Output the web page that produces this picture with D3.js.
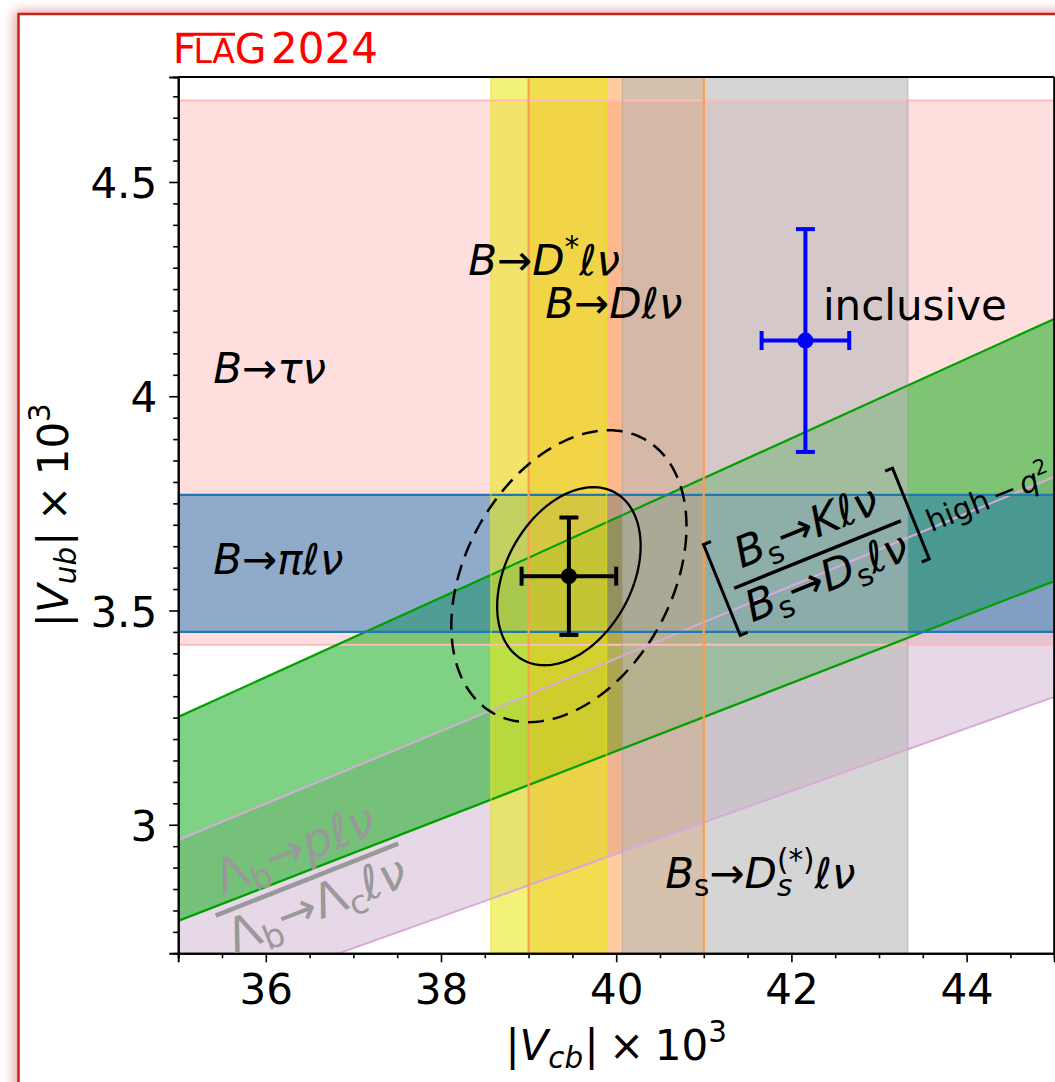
<!DOCTYPE html>
<html>
<head>
  <meta charset="utf-8">
  <title>FLAG 2024 - |Vub| vs |Vcb|</title>
  <script type="text/javascript" src="https://cdn.jsdelivr.net/npm/d3@7/dist/d3.min.js"></script>
  <style>
    body {
      margin: 0;
      background: #fff;
    }
    svg {
      display: block;
      font-family: "DejaVu Sans", sans-serif;
    }
  </style>
</head>
<body>
  <svg id="chart"></svg>
  <script>
    // ---- data (|V| x 10^3) ----

    // bands in |Vcb|
    var vcbKeys = ["D", "Dstar", "BsDs"];
    var vcbLo = [39.00, 38.57, 40.07];
    var vcbHi = [41.00, 39.89, 43.33];

    // bands in |Vub|
    var vubKeys = ["tau", "pi"];
    var vubLo = [3.42, 3.45];
    var vubHi = [4.69, 3.77];

    // bands in |Vub|/|Vcb| (lines through the origin)
    var ratioKeys = ["Lambda", "BsK"];
    var ratioLo = [0.0733, 0.0793];
    var ratioHi = [0.0847, 0.0929];

    // inclusive determination: [Vcb, err, Vub, err]
    var inclusive = [42.16, 0.50, 4.13, 0.26];

    // combined fit
    var fitCentre = [39.46, 3.58];
    var fitErr = [0.54, 0.137];
    var fitRho = 0.34;
    var contourChi2 = [2.30, 6.18];

    var xTicks = [36, 38, 40, 42, 44];
    var yTicks = [3, 3.5, 4, 4.5];
    var yTickLabels = ["3", "3.5", "4", "4.5"];

    // ---- styles ----
    var bandStyle = {
      tau:    {fill: "rgba(255,0,0,0.13)",     line: "#fbbcbc", w: 2},
      pi:     {fill: "rgba(31,119,180,0.5)",   line: "#1f77b4", w: 2.2},
      Lambda: {fill: "rgba(195,157,195,0.4)",  line: "#d9aad9", w: 2},
      BsK:    {fill: "rgba(34,176,41,0.58)",   line: "#00a000", w: 2.2},
      D:      {fill: "rgba(255,127,14,0.4)",   line: "#f99f52", w: 2.2},
      Dstar:  {fill: "rgba(233,233,22,0.58)",  line: "rgba(230,230,20,0.6)", w: 1.5},
      BsDs:   {fill: "rgba(185,185,185,0.6)",  line: "rgba(150,150,150,0.35)", w: 1.5}
    };

    var W = 1055, H = 1082;
    var FS = 42;

    var svg = d3.select("#chart").attr("width", W).attr("height", H);

    var x = d3.scaleLinear().domain([35, 45]).range([178.2, 1054.2]);
    var y = d3.scaleLinear().domain([2.7, 4.745]).range([953.3, 77]);

    var defs = svg.append("defs");
    var flt = defs.append("filter").attr("id", "shadow")
        .attr("x", "-10%").attr("y", "-10%").attr("width", "120%").attr("height", "120%");
    flt.append("feGaussianBlur").attr("stdDeviation", 6);

    defs.append("clipPath").attr("id", "plotclip")
      .append("rect")
        .attr("x", x(35)).attr("y", y(4.745))
        .attr("width", x(45) - x(35)).attr("height", y(2.7) - y(4.745));

    // card with reddish shadow
    svg.append("rect")
        .attr("x", 14).attr("y", 11).attr("width", 1150).attr("height", 1150)
        .attr("fill", "#d04a4a").attr("opacity", 0.5)
        .attr("filter", "url(#shadow)");
    svg.append("rect")
        .attr("x", 18.5).attr("y", 14).attr("width", 1150).attr("height", 1150)
        .attr("fill", "#fff").attr("stroke", "#c3261b").attr("stroke-width", 2.5);

    // ---- small mathtext-like helper ----
    // part: [text, flags, padBefore(em), padAfter(em)]
    // flags: i italic, b subscript, p superscript, k stack next part on this one
    function mrow(parent, parts, size) {
      var g = parent.append("g");
      var cx = 0, stackStart = null, stackMax = 0;
      parts.forEach(function(p) {
        var t = p[0], f = p[1] || "";
        var sub = f.indexOf("b") >= 0, sup = f.indexOf("p") >= 0;
        var fs = (sub || sup) ? size * 0.7 : size;
        var dy = sub ? size * 0.2 : (sup ? -size * 0.42 : 0);
        if (p[2]) cx += p[2] * size;
        var x0 = stackStart !== null ? stackStart : cx;
        var el = g.append("text")
            .attr("x", x0).attr("y", dy)
            .attr("font-size", fs)
            .attr("font-style", f.indexOf("i") >= 0 ? "italic" : "normal")
            .text(t);
        var w = el.node().getComputedTextLength();
        if (f.indexOf("k") >= 0) {
          stackStart = x0; stackMax = w;
        } else if (stackStart !== null) {
          cx = stackStart + Math.max(stackMax, w); stackStart = null;
        } else {
          cx = x0 + w;
        }
        if (p[3]) cx += p[3] * size;
      });
      return {g: g, width: cx};
    }

    function label(parent, px, py, parts, size, color) {
      var r = mrow(parent, parts, size);
      r.g.attr("transform", "translate(" + px + "," + py + ")").attr("fill", color || "#000");
      return r;
    }

    function fraction(parent, px, py, rot, num, den, size, color, barW) {
      var g = parent.append("g")
          .attr("transform", "translate(" + px + "," + py + ") rotate(" + rot + ")")
          .attr("fill", color);
      var n = mrow(g, num, size), d = mrow(g, den, size);
      var w = Math.max(n.width, d.width) + 8;
      n.g.attr("transform", "translate(" + (-n.width / 2) + "," + (-size * 0.36) + ")");
      d.g.attr("transform", "translate(" + (-d.width / 2) + "," + (size * 0.9) + ")");
      g.append("line")
          .attr("x1", -w / 2).attr("x2", w / 2).attr("y1", 0).attr("y2", 0)
          .attr("stroke", color).attr("stroke-width", barW);
      return {g: g, width: w};
    }

    // ---- plot ----
    var plot = svg.append("g");
    var fills = plot.append("g").attr("clip-path", "url(#plotclip)");
    var lines = plot.append("g").attr("clip-path", "url(#plotclip)");

    function drawH(i) {
      var s = bandStyle[vubKeys[i]];
      fills.append("rect")
          .attr("x", x(35)).attr("width", x(45) - x(35))
          .attr("y", y(vubHi[i])).attr("height", y(vubLo[i]) - y(vubHi[i]))
          .attr("fill", s.fill);
      [vubLo[i], vubHi[i]].forEach(function(v) {
        lines.append("line")
            .attr("x1", x(35)).attr("x2", x(45)).attr("y1", y(v)).attr("y2", y(v))
            .attr("stroke", s.line).attr("stroke-width", s.w);
      });
    }

    function drawV(i) {
      var s = bandStyle[vcbKeys[i]];
      fills.append("rect")
          .attr("x", x(vcbLo[i])).attr("width", x(vcbHi[i]) - x(vcbLo[i]))
          .attr("y", y(4.745)).attr("height", y(2.7) - y(4.745))
          .attr("fill", s.fill);
      [vcbLo[i], vcbHi[i]].forEach(function(v) {
        lines.append("line")
            .attr("x1", x(v)).attr("x2", x(v)).attr("y1", y(4.745)).attr("y2", y(2.7))
            .attr("stroke", s.line).attr("stroke-width", s.w);
      });
    }

    function drawR(i) {
      var s = bandStyle[ratioKeys[i]];
      var pts = [[35, ratioHi[i] * 35], [45, ratioHi[i] * 45],
                 [45, ratioLo[i] * 45], [35, ratioLo[i] * 35]];
      var line = d3.line().x(function(d) { return x(d[0]); }).y(function(d) { return y(d[1]); });
      fills.append("path").attr("d", line(pts) + "Z").attr("fill", s.fill);
      [ratioLo[i], ratioHi[i]].forEach(function(k) {
        lines.append("path")
            .attr("d", line([[35, k * 35], [45, k * 45]]))
            .attr("fill", "none").attr("stroke", s.line).attr("stroke-width", s.w);
      });
    }

    // draw order as in the original figure
    drawH(0);   // B -> tau nu
    drawR(0);   // Lambda_b
    drawR(1);   // Bs -> K / Bs -> Ds
    drawH(1);   // B -> pi l nu
    drawV(0);   // B -> D l nu
    drawV(1);   // B -> D* l nu
    drawV(2);   // Bs -> Ds(*) l nu

    // fit contours
    function ellipsePts(k) {
      return d3.range(0, 361, 2).map(function(a) {
        var t = a * Math.PI / 180;
        var dx = k * fitErr[0] * Math.cos(t);
        var dy = k * fitErr[1] * (fitRho * Math.cos(t) + Math.sqrt(1 - fitRho * fitRho) * Math.sin(t));
        return [fitCentre[0] + dx, fitCentre[1] + dy];
      });
    }
    var eline = d3.line().x(function(d) { return x(d[0]); }).y(function(d) { return y(d[1]); });
    plot.append("path").attr("d", eline(ellipsePts(Math.sqrt(contourChi2[0]))) + "Z")
        .attr("fill", "none").attr("stroke", "#000").attr("stroke-width", 2.3);
    plot.append("path").attr("d", eline(ellipsePts(Math.sqrt(contourChi2[1]))) + "Z")
        .attr("fill", "none").attr("stroke", "#000").attr("stroke-width", 2.5)
        .attr("stroke-dasharray", "16,9");

    function errbar(cx, ex, cy, ey, color) {
      var g = plot.append("g").attr("stroke", color).attr("stroke-width", 4);
      var cap = 9.5;
      g.append("line").attr("x1", x(cx - ex)).attr("x2", x(cx + ex)).attr("y1", y(cy)).attr("y2", y(cy));
      g.append("line").attr("x1", x(cx)).attr("x2", x(cx)).attr("y1", y(cy - ey)).attr("y2", y(cy + ey));
      g.append("line").attr("x1", x(cx - ex)).attr("x2", x(cx - ex)).attr("y1", y(cy) - cap).attr("y2", y(cy) + cap);
      g.append("line").attr("x1", x(cx + ex)).attr("x2", x(cx + ex)).attr("y1", y(cy) - cap).attr("y2", y(cy) + cap);
      g.append("line").attr("x1", x(cx) - cap).attr("x2", x(cx) + cap).attr("y1", y(cy - ey)).attr("y2", y(cy - ey));
      g.append("line").attr("x1", x(cx) - cap).attr("x2", x(cx) + cap).attr("y1", y(cy + ey)).attr("y2", y(cy + ey));
      plot.append("circle").attr("cx", x(cx)).attr("cy", y(cy)).attr("r", 8).attr("fill", color);
    }
    errbar(inclusive[0], inclusive[1], inclusive[2], inclusive[3], "#0000ff");
    errbar(fitCentre[0], fitErr[0], fitCentre[1], fitErr[1], "#000");

    // ---- axes ----
    var xAxis = plot.append("g").attr("transform", "translate(0," + y(2.7) + ")")
        .call(d3.axisBottom(x).tickValues(xTicks).tickSize(9).tickPadding(12)
              .tickFormat(d3.format("d")));
    var xMinor = plot.append("g").attr("transform", "translate(0," + y(2.7) + ")")
        .call(d3.axisBottom(x).tickValues(d3.range(35, 45.01, 0.5).filter(function(v) {
          return xTicks.indexOf(v) < 0; })).tickSize(5).tickFormat(""));
    var yAxis = plot.append("g").attr("transform", "translate(" + x(35) + ",0)")
        .call(d3.axisLeft(y).tickValues(yTicks).tickSize(9).tickPadding(12)
              .tickFormat(function(d, i) { return yTickLabels[i]; }));
    var yMinor = plot.append("g").attr("transform", "translate(" + x(35) + ",0)")
        .call(d3.axisLeft(y).tickValues(d3.range(2.7, 4.746, 0.05).filter(function(v) {
          return yTicks.every(function(t) { return Math.abs(t - v) > 1e-6; }); }))
              .tickSize(5).tickFormat(""));

    [xAxis, xMinor, yAxis, yMinor].forEach(function(a) {
      a.selectAll("path.domain").attr("stroke", "#000").attr("stroke-width", 2);
      a.selectAll(".tick line").attr("stroke", "#000").attr("stroke-width", 1.6);
      a.selectAll(".tick text").attr("font-size", FS).attr("font-family", "DejaVu Sans")
          .attr("fill", "#000");
    });
    yAxis.selectAll(".tick text").attr("dy", "0.37em");

    // top and right spines
    plot.append("line").attr("x1", x(35)).attr("x2", x(45)).attr("y1", y(4.745)).attr("y2", y(4.745))
        .attr("stroke", "#000").attr("stroke-width", 2);
    plot.append("line").attr("x1", x(45)).attr("x2", x(45)).attr("y1", y(4.745)).attr("y2", y(2.7))
        .attr("stroke", "#000").attr("stroke-width", 2);

    // axis titles
    var xl = mrow(svg, [["|", ""], ["V", "i"], ["cb", "ib"], ["|", "", 0.03], ["×", "", 0.25, 0.25],
                        ["10", ""], ["3", "p"]], FS);
    xl.g.attr("transform", "translate(" + ((x(35) + x(45)) / 2 - xl.width / 2) + ",1060)");
    var yl = mrow(svg, [["|", ""], ["V", "i"], ["ub", "ib"], ["|", "", 0.03], ["×", "", 0.25, 0.25],
                        ["10", ""], ["3", "p"]], FS);
    yl.g.attr("transform", "translate(68," + ((y(2.7) + y(4.745)) / 2 + yl.width / 2) + ") rotate(-90)");

    // ---- FLAG 2024 logo ----
    var logo = svg.append("g").attr("fill", "#ff0000");
    logo.append("text").attr("x", 172.7).attr("y", 62.7).attr("font-size", 41).text("F");
    logo.append("text").attr("x", 193.6).attr("y", 62.7).attr("font-size", 33)
        .attr("letter-spacing", -0.5).text("LA");
    logo.append("text").attr("x", 234.7).attr("y", 62.7).attr("font-size", 41).text("G");
    logo.append("text").attr("x", 271).attr("y", 62.7).attr("font-size", 42).text("2024");
    logo.append("line").attr("x1", 176.7).attr("x2", 235).attr("y1", 34.3).attr("y2", 34.3)
        .attr("stroke", "#ff0000").attr("stroke-width", 3);

    // ---- band labels ----
    var labels = svg.append("g");
    label(labels, x(35.40), y(4.03), [["B", "i"], ["→", ""], ["τ", "i"], ["ν", "i"]], FS);
    label(labels, x(35.40), y(3.585), [["B", "i"], ["→", ""], ["π", "i"], ["ℓ", "i"], ["ν", "i"]], FS);
    label(labels, x(38.31), y(4.284), [["B", "i"], ["→", ""], ["D", "i"], ["*", "p"], ["ℓ", "i"], ["ν", "i"]], FS);
    label(labels, x(39.19), y(4.182), [["B", "i"], ["→", ""], ["D", "i"], ["ℓ", "i"], ["ν", "i"]], FS);
    label(labels, x(42.36), y(4.179), [["inclusive", ""]], FS);
    label(labels, x(40.56), y(2.853), [["B", "i"], ["s", "b"], ["→", ""], ["D", "i"], ["s", "ibk"],
                                       ["(*)", "p"], ["ℓ", "i"], ["ν", "i"]], FS);

    // Bs -> K l nu / Bs -> Ds l nu ratio label
    var rf = fraction(labels, x(42.298), y(3.6306), -22,
        [["B", "i"], ["s", "b"], ["→", ""], ["K", "i"], ["ℓ", "i"], ["ν", "i"]],
        [["B", "i"], ["s", "b"], ["→", ""], ["D", "i"], ["s", "b"], ["ℓ", "i"], ["ν", "i"]],
        43, "#000", 3.4);
    var bx = rf.width / 2 + 12;
    rf.g.append("path").attr("d", "M" + (-bx + 8) + ",-52H" + (-bx) + "V46H" + (-bx + 8))
        .attr("fill", "none").attr("stroke", "#000").attr("stroke-width", 3);
    rf.g.append("path").attr("d", "M" + (bx - 8) + ",-52H" + bx + "V46H" + (bx - 8))
        .attr("fill", "none").attr("stroke", "#000").attr("stroke-width", 3);
    var hq = mrow(rf.g, [["high", ""], ["−", "", 0.15, 0.15], ["q", "i"], ["2", "p"]], 30);
    hq.g.attr("transform", "translate(" + (bx + 12) + ",22)");

    // Lambda_b ratio label
    fraction(labels, x(36.47), y(2.872), -21.5,
        [["Λ", ""], ["b", "b"], ["→", ""], ["p", "i"], ["ℓ", "i"], ["ν", "i"]],
        [["Λ", ""], ["b", "b"], ["→", ""], ["Λ", ""], ["c", "b"], ["ℓ", "i"], ["ν", "i"]],
        47, "#999999", 4.5);
  </script>
</body>
</html>
